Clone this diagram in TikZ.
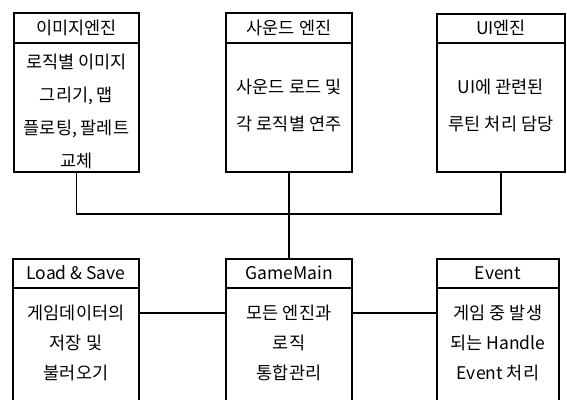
\documentclass[tikz,border=0pt]{standalone}
\usepackage{fontspec}
\setmainfont{Noto Sans CJK KR}
\begin{document}
\begin{tikzpicture}[x=1pt,y=-1pt,
  box/.style={draw, line width=1.6pt, inner sep=0pt},
  rule/.style={line width=1.1pt},
  conn/.style={line width=1.1pt},
  txt/.style={inner sep=0pt, align=center, font=\fontsize{17.5}{30}\selectfont}]
\useasboundingbox (0,0) rectangle (567,399);
\clip (0,0) rectangle (567,399);
% top row
\node[box, minimum width=125pt, minimum height=159pt] (img) at (76.5,92.5) {};
\node[box, minimum width=126pt, minimum height=159pt] (snd) at (289,92.5) {};
\node[box, minimum width=128pt, minimum height=158pt] (ui) at (501,93) {};
\coordinate (toprule) at (0,43);
\draw[rule] (img.west |- toprule) -- (img.east |- toprule);
\draw[rule] (snd.west |- toprule) -- (snd.east |- toprule);
\draw[rule] (ui.west |- toprule) -- (ui.east |- toprule);
\node[txt] (imgh) at (76.5,28) {이미지엔진};
\node[txt] (sndh) at (289,28) {사운드 엔진};
\node[txt] (uih) at (501,28) {UI엔진};
\node[txt, font=\fontsize{17.5}{33}\selectfont] (imgb) at (76.5,111) {로직별 이미지\\그리기, 맵\\플로팅, 팔레트\\교체};
\node[txt, font=\fontsize{17.5}{37}\selectfont] (sndb) at (289,105.5) {사운드 로드 및\\각 로직별 연주};
\node[txt, font=\fontsize{17.5}{37}\selectfont] (uib) at (501,105.5) {UI에 관련된\\루틴 처리 담당};
% bottom row
\node[box, anchor=north, minimum width=126pt, minimum height=170pt] (load) at (76,258) {};
\node[box, anchor=north, minimum width=126pt, minimum height=170pt] (gm) at (289,258) {};
\node[box, anchor=north, minimum width=122pt, minimum height=170pt] (ev) at (498,258) {};
\coordinate (botrule) at (0,288);
\draw[rule] (load.west |- botrule) -- (load.east |- botrule);
\draw[rule] (gm.west |- botrule) -- (gm.east |- botrule);
\draw[rule] (ev.west |- botrule) -- (ev.east |- botrule);
\node[txt] (loadh) at (76,273) {Load \& Save};
\node[txt] (gmh) at (289,273) {GameMain};
\node[txt] (evh) at (498,273) {Event};
\node[txt] (loadb) at (76,343) {게임데이터의\\저장 및\\불러오기};
\node[txt] (gmb) at (289,343) {모든 엔진과\\로직\\통합관리};
\node[txt] (evb) at (498,343) {게임 중 발생\\되는 Handle\\Event 처리};
% connectors
\coordinate (bus) at (0,214);
\coordinate (midrow) at (0,313);
\draw[conn] (img.south) -- (img.south |- bus) -| (ui.south);
\draw[conn] (snd.south) -- (gm.north);
\draw[conn] (load.east |- midrow) -- (gm.west |- midrow);
\draw[conn] (gm.east |- midrow) -- (ev.west |- midrow);
\end{tikzpicture}
\end{document}
